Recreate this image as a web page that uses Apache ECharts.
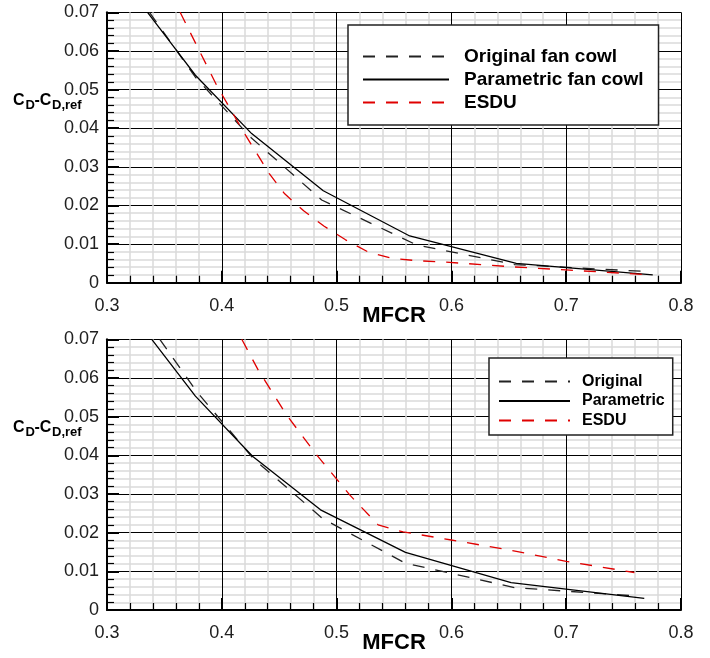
<!DOCTYPE html>
<html><head><meta charset="utf-8">
<script src="https://cdn.jsdelivr.net/npm/echarts@6/dist/echarts.min.js"></script>
<style>html,body{margin:0;padding:0;background:#fff}#c{width:710px;height:658px}</style>
</head><body><div id="c"></div>
<script>
// ---- data (MFCR, CD - CD,ref) ----
const xTickLabels = ['0.3', '0.4', '0.5', '0.6', '0.7', '0.8'];
const yTickLabels = ['0', '0.01', '0.02', '0.03', '0.04', '0.05', '0.06', '0.07'];
const topNames = ['Original fan cowl', 'Parametric fan cowl', 'ESDU'];
const bottomNames = ['Original', 'Parametric', 'ESDU'];

const topOriginal = [[0.337,0.0700],[0.377,0.0532],[0.4246,0.0378],[0.487,0.0214],[0.5696,0.0098],[0.655,0.0047],[0.7696,0.0029]];
const topParametric = [[0.3353,0.0700],[0.3609,0.0600],[0.377,0.0537],[0.426,0.0386],[0.4884,0.0238],[0.5637,0.0121],[0.6565,0.0050],[0.7754,0.0020]];
const topESDU = [[0.3637,0.0700],[0.3957,0.0510],[0.4188,0.0391],[0.4412,0.0283],[0.4548,0.0230],[0.4713,0.0186],[0.4892,0.0146],[0.5078,0.0111],[0.5272,0.0080],[0.548,0.0063],[0.5698,0.0057],[0.5919,0.0054],[0.6536,0.0041],[0.700,0.0033],[0.775,0.0020]];

const bottomOriginal = [[0.346,0.0700],[0.378,0.0565],[0.428,0.0390],[0.488,0.0236],[0.560,0.0121],[0.655,0.0058],[0.762,0.0036]];
const bottomParametric = [[0.339,0.0700],[0.377,0.0553],[0.427,0.0397],[0.486,0.0259],[0.560,0.0149],[0.652,0.0071],[0.768,0.0030]];
const bottomESDU = [[0.4174,0.0700],[0.4318,0.0620],[0.4565,0.0504],[0.4826,0.0401],[0.5116,0.0297],[0.5362,0.0220],[0.558,0.0202],[0.600,0.0181],[0.6507,0.0155],[0.700,0.0126],[0.7594,0.0097]];

const FONT = "'Liberation Sans', Arial, Helvetica, sans-serif";
const chart = echarts.init(document.getElementById('c'), null, {renderer: 'canvas'});

function xAxis(i) {
  return {
    type: 'value', gridIndex: i, min: 0.3, max: 0.8, interval: 0.1,
    axisLine: {show: true, onZero: false, lineStyle: {color: '#000', width: 2}},
    axisTick: {show: true, inside: true, length: 12, lineStyle: {color: '#000', width: 2}},
    minorTick: {show: true, splitNumber: 5, length: 7, lineStyle: {color: '#000', width: 1.2}},
    splitLine: {show: true, lineStyle: {color: '#000', width: 1}},
    minorSplitLine: {show: true, lineStyle: {color: '#dadada', width: 1.5}},
    axisLabel: {margin: 14, fontSize: 18, color: '#202020', fontFamily: FONT, showMinLabel: true, showMaxLabel: true,
      formatter: v => xTickLabels[Math.round((v - 0.3) * 10)]},
    name: 'MFCR', nameLocation: 'middle', nameGap: 22, nameMoveOverlap: false,
    nameTextStyle: {fontSize: 22, fontWeight: 'bold', color: '#000', fontFamily: FONT}
  };
}
function yAxis(i) {
  return {
    type: 'value', gridIndex: i, min: 0, max: 0.07, interval: 0.01,
    axisLine: {show: true, onZero: false, lineStyle: {color: '#000', width: 2}},
    axisTick: {show: true, inside: true, length: 12, lineStyle: {color: '#000', width: 2}},
    minorTick: {show: true, splitNumber: 5, length: 7, lineStyle: {color: '#000', width: 1.2}},
    splitLine: {show: true, lineStyle: {color: '#000', width: 1}},
    minorSplitLine: {show: true, lineStyle: {color: '#dadada', width: 1.5}},
    axisLabel: {margin: 8, fontSize: 18, color: '#202020', fontFamily: FONT, showMinLabel: true, showMaxLabel: true,
      formatter: v => yTickLabels[Math.round(v * 100)]}
  };
}
function line(name, data, i, color, dashed) {
  return {
    type: 'line', name: name, data: data, xAxisIndex: i, yAxisIndex: i,
    symbol: 'none', showSymbol: false, clip: true, z: 5,
    lineStyle: {color: color, width: 1.3, type: dashed ? [12, 11] : 'solid'},
    itemStyle: {color: color}
  };
}
function ytitle(yc) {
  const bold = (size) => 'bold ' + size + 'px ' + FONT;
  const t = (x, y, text, size) => ({type: 'text', x: x, y: y, silent: true,
    style: {text: text, font: bold(size), fill: '#000', textAlign: 'left', textVerticalAlign: 'middle', align: 'left', verticalAlign: 'middle'}});
  return [t(13, yc, 'C', 16), t(25.5, yc + 4, 'D', 13), t(34.5, yc, '-C', 16), t(52, yc + 4, 'D,ref', 13)];
}

const legendCommon = {
  orient: 'vertical', backgroundColor: '#fff', borderColor: '#222', borderWidth: 1.5,
  itemStyle: {opacity: 0}, selectedMode: false
};

chart.setOption({
  animation: false,
  backgroundColor: '#fff',
  grid: [
    {left: 107, right: 29, top: 12.3, height: 270.4, outerBoundsMode: 'none'},
    {left: 107, right: 29, top: 339.3, height: 270.7, outerBoundsMode: 'none'}
  ],
  xAxis: [xAxis(0), xAxis(1)],
  yAxis: [yAxis(0), yAxis(1)],
  legend: [
    Object.assign({}, legendCommon, {
      data: topNames, left: 348, top: 25, itemWidth: 86, itemHeight: 14, itemGap: 4,
      padding: [22, 15, 13, 14],
      textStyle: {fontSize: 19, fontWeight: 'bold', color: '#000', fontFamily: FONT, lineHeight: 19, padding: [0, 0, 0, 10]}
    }),
    Object.assign({}, legendCommon, {
      data: bottomNames, left: 489, top: 358, itemWidth: 71, itemHeight: 12, itemGap: 3.5,
      padding: [15.5, 8, 6.5, 9],
      textStyle: {fontSize: 16, fontWeight: 'bold', color: '#000', fontFamily: FONT, lineHeight: 16, padding: [0, 0, 0, 7]}
    })
  ],
  graphic: ytitle(101).concat(ytitle(428)),
  series: [
    line(topNames[0], topOriginal, 0, '#222', true),
    line(topNames[1], topParametric, 0, '#000', false),
    line(topNames[2], topESDU, 0, '#e00000', true),
    line(bottomNames[0], bottomOriginal, 1, '#222', true),
    line(bottomNames[1], bottomParametric, 1, '#000', false),
    line(bottomNames[2], bottomESDU, 1, '#e00000', true)
  ]
});
</script></body></html>
